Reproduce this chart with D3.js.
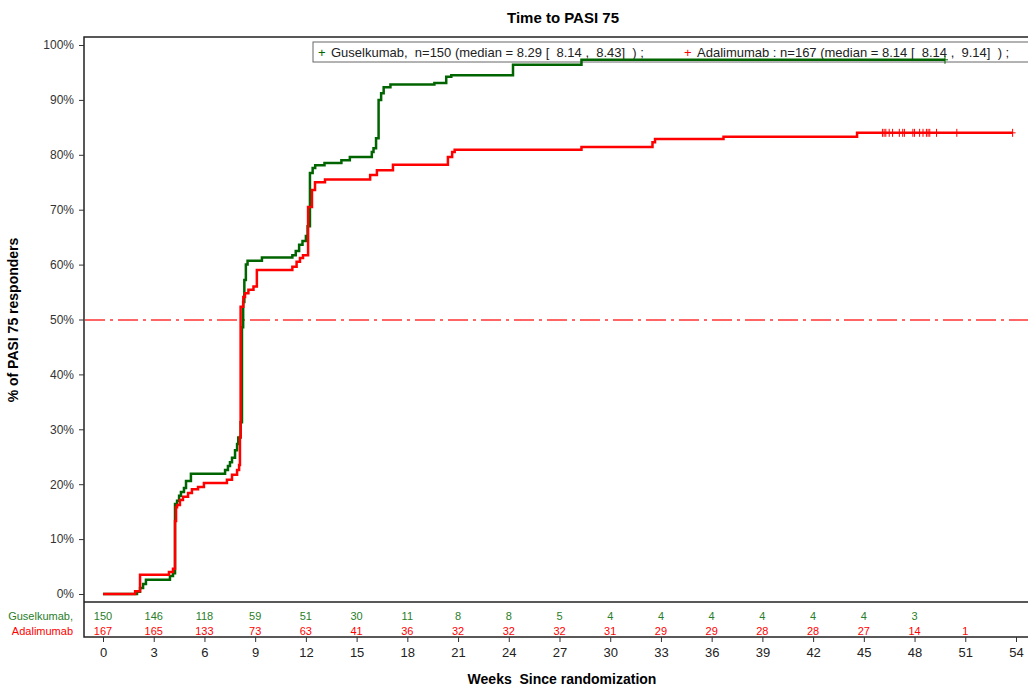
<!DOCTYPE html>
<html>
<head>
<meta charset="utf-8">
<script src="https://cdn.jsdelivr.net/npm/d3@7"></script>
<style>
  body { margin: 0; background: #fff; }
  text { font-family: "Liberation Sans", Arial, sans-serif; }
</style>
</head>
<body>
<div id="app"></div>
<script>
/*global d3*/

// step data: [week, % responders]
const guselkumab = [
  [0, 0], [2.01, 0.4], [2.19, 1.1], [2.37, 1.8], [2.54, 2.6], [3.96, 3.3], [4.14, 3.8],
  [4.26, 16.4], [4.38, 17.0], [4.5, 17.9], [4.61, 18.6], [4.79, 19.3], [4.91, 20.6], [5.2, 21.9],
  [7.22, 22.6], [7.39, 23.3], [7.51, 24.0], [7.63, 24.8], [7.81, 26.2], [7.93, 27.3], [8.0, 28.5],
  [8.14, 31.3], [8.22, 48.6], [8.29, 53.2], [8.36, 57.2], [8.45, 60.0], [8.55, 60.7], [9.4, 61.3],
  [11.2, 61.7], [11.4, 62.5], [11.6, 63.6], [11.8, 64.3], [12.0, 65.2], [12.1, 67.0], [12.24, 76.7],
  [12.4, 77.6], [12.55, 78.1], [13.1, 78.5], [14.1, 79.0], [14.6, 79.6], [15.9, 80.5], [16.0, 81.2],
  [16.15, 83.0], [16.3, 90.0], [16.45, 91.2], [16.6, 92.3], [17.0, 92.8], [19.6, 93.1], [20.3, 94.2],
  [20.6, 94.5], [24.25, 96.4], [28.3, 97.3], [49.8, 97.3]
];
const adalimumab = [
  [0, 0], [1.9, 0.5], [2.19, 3.5], [3.9, 4.0], [4.14, 4.6], [4.26, 13.3], [4.32, 15.8],
  [4.38, 16.2], [4.55, 17.1], [4.73, 17.7], [5.03, 18.4], [5.26, 19.1], [5.62, 19.5], [5.97, 20.2],
  [7.33, 20.8], [7.63, 21.7], [7.93, 22.6], [8.05, 23.5], [8.1, 28.6], [8.14, 52.3], [8.3, 54.1],
  [8.4, 54.8], [8.6, 55.4], [8.9, 56.0], [9.1, 59.0], [11.2, 59.6], [11.45, 60.5], [11.65, 61.2],
  [11.83, 61.7], [12.13, 70.5], [12.36, 73.6], [12.54, 75.0], [13.13, 75.5], [15.8, 76.3],
  [16.2, 77.2], [17.15, 78.2], [20.4, 79.6], [20.65, 80.5], [20.8, 80.9], [28.3, 81.4],
  [32.5, 82.3], [32.65, 82.9], [36.7, 83.3], [44.6, 84.0], [53.8, 84.0]
];
// censored obs (the little + marks)
const adaCensored = [46.1, 46.2, 46.3, 46.5, 46.7, 47.1, 47.3, 47.4, 47.9, 48.0, 48.3, 48.5,
  48.7, 48.8, 48.9, 49.3, 50.5, 53.8];
const gusCensored = [49.8];

// numbers at risk
const riskWeeks = [0, 3, 6, 9, 12, 15, 18, 21, 24, 27, 30, 33, 36, 39, 42, 45, 48, 51];
const gusRisk = [150, 146, 118, 59, 51, 30, 11, 8, 8, 5, 4, 4, 4, 4, 4, 4, 3];
const adaRisk = [167, 165, 133, 73, 63, 41, 36, 32, 32, 32, 31, 29, 29, 28, 28, 27, 14, 1];

const xTicks = d3.range(0, 55, 3);
const yTicks = d3.range(0, 101, 10);

const gusLegend = 'Guselkumab,  n=150 (median = 8.29 [  8.14 ,  8.43]  ) ;';
const adaLegend = 'Adalimumab : n=167 (median = 8.14 [  8.14 ,  9.14]  ) ;';

(async () => {
  const WIDTH = 1028;
  const HEIGHT = 691;
  const GREEN = '#006400';
  const RED = '#ff0000';

  const app = d3.select('#app');
  const svg = d3.create('svg')
    .attr('width', WIDTH)
    .attr('height', HEIGHT)
    .attr('viewBox', [0, 0, WIDTH, HEIGHT]);

  const x = d3.scaleLinear().domain([0, 54]).range([103, 1016]);
  const y = d3.scaleLinear().domain([0, 100]).range([594, 45]);

  // title
  svg.append('text')
    .attr('x', 563).attr('y', 23)
    .attr('text-anchor', 'middle')
    .style('font-size', '15px').style('font-weight', 'bold')
    .text('Time to PASI 75');

  // frame: plot box + at-risk box
  const frame = svg.append('g').attr('fill', 'none').attr('stroke', '#222').attr('stroke-width', 1.5);
  frame.append('rect').attr('x', 84).attr('y', 37).attr('width', 1000).attr('height', 600);
  frame.append('line').attr('x1', 84).attr('x2', 1100).attr('y1', 602).attr('y2', 602);

  // y axis
  const yAxis = svg.append('g')
    .attr('transform', 'translate(84,0)')
    .call(d3.axisLeft(y).tickValues(yTicks).tickSize(5).tickFormat(d => d + '%'));
  yAxis.select('.domain').remove();
  yAxis.selectAll('text').style('font-size', '12px').attr('fill', '#333')
    .style('font-family', '"Liberation Sans", Arial, sans-serif').attr('dx', '-2');
  yAxis.selectAll('line').attr('stroke', '#333');

  svg.append('text')
    .attr('transform', 'translate(18,320) rotate(-90)')
    .attr('text-anchor', 'middle')
    .style('font-size', '14px').style('font-weight', 'bold')
    .text('% of PASI 75 responders');

  // x axis below the at-risk table
  const xAxis = svg.append('g')
    .attr('transform', 'translate(0,637)')
    .call(d3.axisBottom(x).tickValues(xTicks).tickSize(5).tickSizeOuter(0));
  xAxis.select('.domain').remove();
  xAxis.selectAll('text').style('font-size', '13px').attr('fill', '#222')
    .style('font-family', '"Liberation Sans", Arial, sans-serif').attr('dy', '0.9em');
  xAxis.selectAll('line').attr('stroke', '#333');

  svg.append('text')
    .attr('x', 562).attr('y', 684)
    .attr('text-anchor', 'middle')
    .style('font-size', '14px').style('font-weight', 'bold')
    .style('white-space', 'pre')
    .text('Weeks  Since randomization');

  // 50% reference line (dash-dot, red)
  svg.append('path')
    .attr('d', `M85,${Math.round(y(50))}H${WIDTH}`)
    .attr('fill', 'none')
    .attr('stroke', '#ff3333')
    .attr('stroke-width', 1.5)
    .attr('stroke-dasharray', '20,5,3,5');

  const line = d3.line()
    .x(d => x(d[0]))
    .y(d => y(d[1]))
    .curve(d3.curveStepAfter);

  // censor ticks
  const censor = (weeks, data, color) => {
    const lastY = data[data.length - 1][1];
    const g = svg.append('g').attr('stroke', color).attr('stroke-width', 1);
    g.selectAll('line.v')
      .data(weeks)
      .join('line')
      .attr('class', 'v')
      .attr('x1', d => x(d)).attr('x2', d => x(d))
      .attr('y1', y(lastY) - 4).attr('y2', y(lastY) + 4);
    g.selectAll('line.h')
      .data(weeks)
      .join('line')
      .attr('class', 'h')
      .attr('x1', d => x(d) - 3).attr('x2', d => x(d) + 3)
      .attr('y1', y(lastY)).attr('y2', y(lastY));
  };

  // legend box (under the green curve which runs through it)
  const leg = svg.append('g');
  leg.append('rect')
    .attr('x', 313).attr('y', 42).attr('width', 760).attr('height', 20)
    .attr('fill', '#fff').attr('stroke', '#666').attr('stroke-width', 1);
  leg.append('text').attr('x', 318).attr('y', 57)
    .attr('fill', GREEN).style('font-size', '13px').text('+');
  leg.append('text').attr('x', 331).attr('y', 57)
    .style('font-size', '13px').style('white-space', 'pre').attr('fill', '#222')
    .text(gusLegend);
  leg.append('text').attr('x', 684).attr('y', 57)
    .attr('fill', RED).style('font-size', '13px').text('+');
  leg.append('text').attr('x', 697).attr('y', 57)
    .style('font-size', '13px').style('white-space', 'pre').attr('fill', '#222')
    .text(adaLegend);

  // KM curves - green first so red sits on top
  svg.append('path')
    .datum(guselkumab)
    .attr('fill', 'none')
    .attr('stroke', GREEN)
    .attr('stroke-width', 2.5)
    .attr('d', line);
  censor(gusCensored, guselkumab, GREEN);

  svg.append('path')
    .datum(adalimumab)
    .attr('fill', 'none')
    .attr('stroke', RED)
    .attr('stroke-width', 2.5)
    .attr('d', line);
  censor(adaCensored, adalimumab, RED);

  // numbers at risk
  const risk = svg.append('g').style('font-size', '11px').attr('text-anchor', 'middle');
  risk.selectAll('text.g')
    .data(gusRisk)
    .join('text')
    .attr('class', 'g')
    .attr('x', (d, i) => x(riskWeeks[i]))
    .attr('y', 620)
    .attr('fill', '#2a7d2a')
    .text(d => d);
  risk.selectAll('text.r')
    .data(adaRisk)
    .join('text')
    .attr('class', 'r')
    .attr('x', (d, i) => x(riskWeeks[i]))
    .attr('y', 635)
    .attr('fill', RED)
    .text(d => d);

  svg.append('text').attr('x', 73).attr('y', 620)
    .attr('text-anchor', 'end').attr('fill', '#2a7d2a').style('font-size', '11px')
    .text('Guselkumab,');
  svg.append('text').attr('x', 73).attr('y', 635)
    .attr('text-anchor', 'end').attr('fill', RED).style('font-size', '11px')
    .text('Adalimumab');

  app.append(() => svg.node());
})();
</script>
</body>
</html>
